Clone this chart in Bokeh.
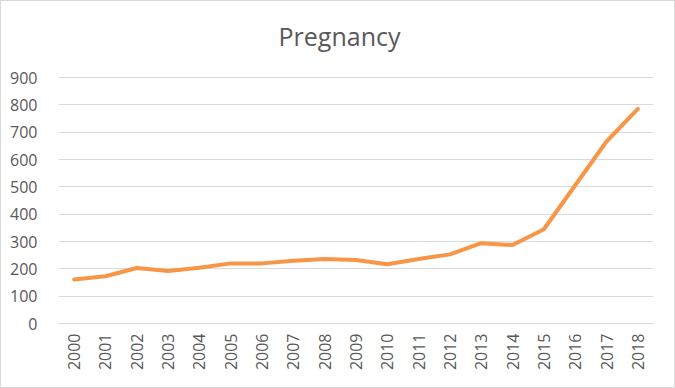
import math
from bokeh.plotting import figure
from bokeh.models import FactorRange, Range1d, ColumnDataSource, FixedTicker, Label
from bokeh.embed import file_html
from bokeh.resources import INLINE

years = [str(y) for y in range(2000, 2019)]
values = [161, 173, 203, 192, 204, 220, 220, 230, 236, 232, 217, 236, 253, 294, 287, 345, 506, 666, 785]
y_ticks = [0, 100, 200, 300, 400, 500, 600, 700, 800, 900]
title_text = "Pregnancy"

src = ColumnDataSource(data=dict(year=years, value=values))

# the frame extends above the 900 gridline so the title can live inside it
p = figure(width=675, height=388, output_backend="svg", toolbar_location=None,
           x_range=FactorRange(*years), y_range=Range1d(0, 1160),
           min_border_left=57, min_border_right=23, min_border_top=5, min_border_bottom=66)

p.line(x="year", y="value", source=src, line_color="#F79646", line_width=4,
       line_join="round", line_cap="round")

p.title.visible = False
title = Label(x=281, y=288, x_units="screen", y_units="screen", text=title_text,
              text_align="center", text_baseline="alphabetic", text_font="Open Sans",
              text_font_size="25px", text_color="#595959")
p.add_layout(title)

p.outline_line_color = None
p.xgrid.grid_line_color = None
p.ygrid.grid_line_color = "#D9D9D9"
p.ygrid.grid_line_width = 1

p.yaxis.ticker = FixedTicker(ticks=y_ticks)
p.yaxis.axis_line_color = None
p.yaxis.major_tick_line_color = None
p.yaxis.minor_tick_line_color = None
p.yaxis.major_label_standoff = 15
p.yaxis.major_label_text_font = "Open Sans"
p.yaxis.major_label_text_font_size = "16px"
p.yaxis.major_label_text_color = "#595959"

p.xaxis.axis_line_color = "#D9D9D9"
p.xaxis.major_tick_line_color = None
p.xaxis.minor_tick_line_color = None
p.xaxis.major_label_orientation = math.pi / 2
p.xaxis.major_label_standoff = 4
p.xaxis.major_label_text_font = "Open Sans"
p.xaxis.major_label_text_font_size = "16px"
p.xaxis.major_label_text_color = "#595959"

p.background_fill_color = "white"
p.border_fill_color = "white"
p.styles = {"box-sizing": "border-box", "border": "1px solid #D9D9D9"}

open("out.html", "w").write(file_html(p, INLINE))
